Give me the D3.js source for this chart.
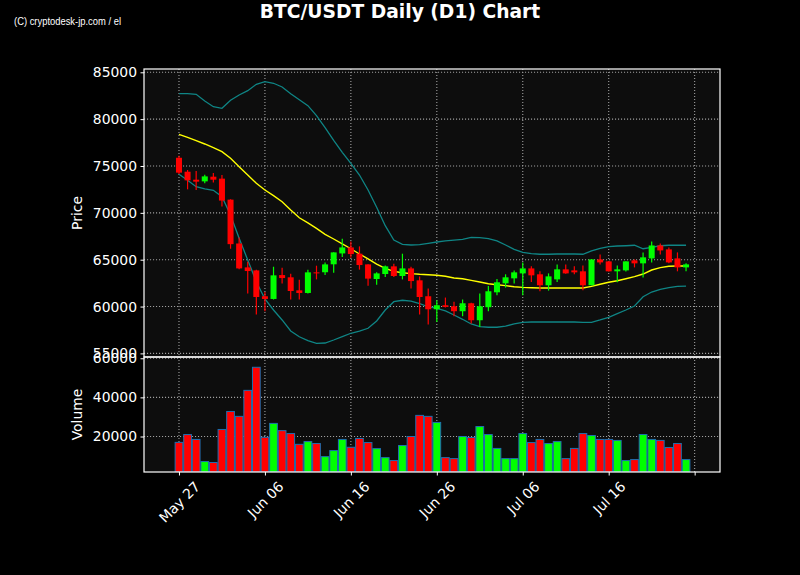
<!DOCTYPE html>
<html><head><meta charset="utf-8">
<script src="https://cdn.jsdelivr.net/npm/d3@7"></script>
<style>html,body{margin:0;padding:0;background:#000;}svg{display:block;}</style>
</head><body>
<svg id="chart" width="800" height="575"></svg>
<script>
// ---------------- data ----------------
const startDate = "2024-05-27";
const openP  = [75880,74390,73540,73360,73860,73650,71410,66730,64180,63860,
                61100,60810,63360,63120,61730,61450,63650,63660,64510,65670,
                66310,65640,64500,62940,63470,64290,63260,64070,62800,61100,
                59710,60140,60030,59500,60350,58540,59930,61520,62480,63010,
                63540,64070,63440,62270,62900,63970,63860,63760,62270,65030,
                64820,63760,63860,64930,64610,65140,66520,66100,65140,64180];
const highP  = [76100,74570,74470,74070,74250,74040,71450,67370,64790,63940,
                61550,64250,64150,63510,62870,63940,64360,64710,65800,67230,
                66950,66420,64520,63650,64390,64570,65640,64260,63220,61920,
                60670,60960,60500,60750,60400,61380,62180,62940,63440,63860,
                64710,64290,63760,63540,64500,64500,64290,64390,65060,65560,
                64850,64390,64840,65030,65780,66950,66730,66310,65780,64610];
const lowP   = [74150,72510,72450,73150,73250,70670,66170,63970,61380,59150,
                59500,60750,62450,60750,60750,61380,62900,63360,63620,65280,
                65210,63940,62230,62340,63150,63150,62900,61920,59150,58090,
                58360,59900,58970,58970,58190,57830,59500,61200,62020,62450,
                61200,62620,61630,61700,62630,63500,63440,61730,62250,64500,
                63740,62590,63740,64180,63090,64710,65560,64610,63760,63760];
const closeP = [74290,73470,73330,73890,73540,71310,66660,64070,63790,61020,
                60810,63330,63040,61660,61450,63650,63540,64500,65780,66310,
                65600,64430,62980,63540,64290,63260,64070,62720,61020,59710,
                60140,59960,59500,60350,58540,60030,61630,62590,63120,63650,
                64070,63330,62270,63220,63970,63540,63650,62270,65030,64710,
                63760,63970,64820,64610,65250,66520,65990,64710,64180,64500];
const volume = [17000,21000,18500,7200,6700,23600,32800,30300,43600,55400,
                19600,26700,23000,21500,16000,17400,16400,9700,12800,18500,
                14500,19000,16900,13800,9200,7700,15400,20000,30800,30300,
                27200,9200,8700,20000,19500,25100,21000,13900,8700,8700,
                21500,16900,18500,16400,17400,8700,13900,21500,20500,18500,
                18500,18000,7700,8200,21000,18500,18000,14400,16400,8200];
const sma20  = [78380,78060,77700,77350,76950,76530,75820,74930,74040,73150,
                72440,71830,71190,70300,69480,68920,68350,67710,67210,66680,
                66170,65610,65080,64540,64080,63760,63610,63510,63440,63400,
                63340,63230,63050,62970,62800,62620,62440,62330,62230,62120,
                62050,62010,61980,61980,61980,61980,61980,61980,62160,62380,
                62590,62760,62970,63190,63470,63900,64150,64300,64330,64330];
const upperBand = [82720,82720,82650,81940,81330,81160,82010,82580,83040,83720,
                   84000,83830,83430,82720,82080,81440,80370,79090,77740,76460,
                   75290,74040,72440,70590,68630,67100,66640,66570,66600,66750,
                   66890,67000,67100,67180,67390,67350,67240,67000,66570,66110,
                   65790,65640,65580,65580,65610,65610,65610,65580,65930,66220,
                   66390,66460,66490,66540,66170,66320,66490,66540,66540,66540];
const lowerBand = [74110,73470,72790,72550,72410,71720,69770,67280,64970,62650,
                   60810,59630,58570,57390,56780,56360,56080,56110,56430,56780,
                   57150,57390,57680,58460,59630,60520,60670,60590,60300,59980,
                   59810,59530,59100,58640,58140,57850,57790,57790,57920,58140,
                   58320,58350,58350,58350,58350,58350,58350,58320,58320,58570,
                   58850,59240,59630,60060,61050,61550,61840,62010,62160,62190];
const xTickDates  = ["2024-05-27","2024-06-06","2024-06-16","2024-06-26","2024-07-06","2024-07-16","2024-07-26"];
const xTickLabels = ["May 27","Jun 06","Jun 16","Jun 26","Jul 06","Jul 16",""];
const priceTicks  = [55000,60000,65000,70000,75000,80000,85000];
const volumeTicks = [20000,40000,60000];

// ---------------- build ----------------
const t0 = new Date(startDate + "T00:00:00Z");
const dates = d3.utcDay.range(t0, d3.utcDay.offset(t0, openP.length));
const candles = dates.map((d, i) => ({date: d, o: openP[i], h: highP[i], l: lowP[i], c: closeP[i],
  v: volume[i], sma: sma20[i], up: upperBand[i], lo: lowerBand[i]}));

const L = 144, R = 720, PT = 69, PB = 357, VT = 357, VB = 472;
const DAY = 86400000;
const x = d3.scaleUtc().domain([new Date(+t0 - 4.07 * DAY), new Date(+t0 + 62.95 * DAY)]).range([L, R]);
const y = d3.scaleLinear().domain([54616, 85352]).range([PB, PT]);
const yv = d3.scaleLinear().domain([1850, 60650]).range([VB, VT]);
const step = x(dates[1]) - x(dates[0]);

const svg = d3.select("#chart");
svg.append("rect").attr("width", 800).attr("height", 575).attr("fill", "#000");

const defs = svg.append("defs");
defs.append("clipPath").attr("id", "cp").append("rect").attr("x", L).attr("y", PT).attr("width", R - L).attr("height", PB - PT);
defs.append("clipPath").attr("id", "cv").append("rect").attr("x", L).attr("y", VT).attr("width", R - L).attr("height", VB - VT);

// panel backgrounds
svg.append("rect").attr("x", L).attr("y", PT).attr("width", R - L).attr("height", PB - PT).attr("fill", "#0d0d0d");
svg.append("rect").attr("x", L).attr("y", VT).attr("width", R - L).attr("height", VB - VT).attr("fill", "#0d0d0d");

const gridStyle = g => g.attr("stroke", "#a0a0a0").attr("stroke-width", 1.1).attr("stroke-dasharray", "1.1,1.9");
const tickDates = xTickDates.map(s => new Date(s + "T00:00:00Z"));

// grids
const gp = svg.append("g").attr("clip-path", "url(#cp)");
gp.selectAll(".vx").data(tickDates).join("line").attr("x1", d => x(d)).attr("x2", d => x(d)).attr("y1", PT).attr("y2", PB).call(gridStyle);
gp.selectAll(".hy").data(priceTicks).join("line").attr("x1", L).attr("x2", R).attr("y1", d => y(d)).attr("y2", d => y(d)).call(gridStyle);
const gv = svg.append("g").attr("clip-path", "url(#cv)");
gv.selectAll(".vx").data(tickDates).join("line").attr("x1", d => x(d)).attr("x2", d => x(d)).attr("y1", VT).attr("y2", VB).call(gridStyle);
gv.selectAll(".hy").data(volumeTicks).join("line").attr("x1", L).attr("x2", R).attr("y1", d => yv(d)).attr("y2", d => yv(d)).call(gridStyle);

// bands & sma
const lineOf = key => d3.line().x(d => x(d.date)).y(d => y(d[key]));
const gl = svg.append("g").attr("clip-path", "url(#cp)");
gl.append("path").datum(candles).attr("d", lineOf("up")).attr("fill", "none").attr("stroke", "#0f8585").attr("stroke-width", 1.3);
gl.append("path").datum(candles).attr("d", lineOf("lo")).attr("fill", "none").attr("stroke", "#0f8585").attr("stroke-width", 1.3);
gl.append("path").datum(candles).attr("d", lineOf("sma")).attr("fill", "none").attr("stroke", "#ffff00").attr("stroke-width", 1.4);

// candles
const col = d => d.c >= d.o ? "#00ff00" : "#ff0000";
const gc = svg.append("g").attr("clip-path", "url(#cp)");
gc.selectAll(".wick").data(candles).join("line")
  .attr("x1", d => x(d.date)).attr("x2", d => x(d.date))
  .attr("y1", d => y(d.h)).attr("y2", d => y(d.l))
  .attr("stroke", col).attr("stroke-width", 1.2);
const bw = step * 0.7;
gc.selectAll(".body").data(candles).join("rect")
  .attr("x", d => x(d.date) - bw / 2).attr("width", bw)
  .attr("y", d => y(Math.max(d.o, d.c)))
  .attr("height", d => Math.max(1, y(Math.min(d.o, d.c)) - y(Math.max(d.o, d.c))))
  .attr("fill", col);

// volume
const vw = step * 0.9;
svg.append("g").attr("clip-path", "url(#cv)").selectAll("rect").data(candles).join("rect")
  .attr("x", d => x(d.date) - vw / 2).attr("width", vw)
  .attr("y", d => yv(d.v)).attr("height", d => VB - yv(d.v))
  .attr("fill", col).attr("stroke", "#1f6fb0").attr("stroke-width", 1);

// frames
svg.append("rect").attr("x", L).attr("y", PT).attr("width", R - L).attr("height", PB - PT).attr("fill", "none").attr("stroke", "#fff").attr("stroke-width", 1.2);
svg.append("rect").attr("x", L).attr("y", VT).attr("width", R - L).attr("height", VB - VT).attr("fill", "none").attr("stroke", "#fff").attr("stroke-width", 1.2);

const font = "DejaVu Sans, sans-serif";
// y axes
const axP = svg.append("g").attr("transform", `translate(${L},0)`)
  .call(d3.axisLeft(y).tickValues(priceTicks).tickFormat(d3.format("d")).tickSize(3.5).tickPadding(3.5));
const axV = svg.append("g").attr("transform", `translate(${L},0)`)
  .call(d3.axisLeft(yv).tickValues(volumeTicks).tickFormat(d3.format("d")).tickSize(3.5).tickPadding(3.5));
// x axis
const axX = svg.append("g").attr("transform", `translate(0,${VB})`)
  .call(d3.axisBottom(x).tickValues(tickDates).tickFormat((d, i) => xTickLabels[i]).tickSize(3.5).tickPadding(3.5));
[axP, axV, axX].forEach(a => {
  a.select(".domain").remove();
  a.selectAll(".tick line").attr("stroke", "#fff").attr("stroke-width", 1);
  a.selectAll(".tick text").attr("fill", "#fff").style("font-family", font).style("font-size", "13.9px");
});
axX.selectAll(".tick text").each(function () {
  const t = d3.select(this);
  const w = this.getComputedTextLength();
  const h = 13.9;
  const bh = (w + h) * Math.SQRT1_2;
  t.attr("text-anchor", "middle").attr("dy", null).attr("dominant-baseline", "central")
   .attr("y", 0).attr("transform", `translate(0,${7 + bh / 2}) rotate(-45)`);
});

// axis titles
svg.append("text").attr("transform", `translate(82,${(PT + PB) / 2}) rotate(-90)`)
  .attr("text-anchor", "middle").attr("fill", "#fff").style("font-family", font).style("font-size", "13.9px").text("Price");
svg.append("text").attr("transform", `translate(82,${(VT + VB) / 2}) rotate(-90)`)
  .attr("text-anchor", "middle").attr("fill", "#fff").style("font-family", font).style("font-size", "13.9px").text("Volume");

// title
svg.append("text").attr("x", 400).attr("y", 18).attr("text-anchor", "middle").attr("fill", "#fff")
  .style("font-family", font).style("font-weight", "bold").style("font-size", "18.7px").text("BTC/USDT Daily (D1) Chart");
// watermark
svg.append("text").attr("x", 14).attr("y", 24.5).attr("fill", "#fff")
  .style("font-family", "Liberation Sans, Arial, sans-serif").style("font-size", "10.5px")
  .attr("textLength", 107).attr("lengthAdjust", "spacingAndGlyphs").text("(C) cryptodesk-jp.com / el");
</script>
</body></html>
